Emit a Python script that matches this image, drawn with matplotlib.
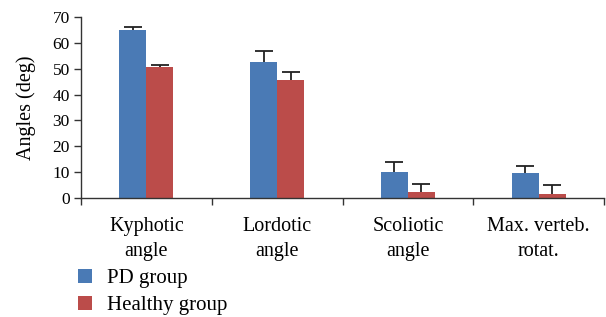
import matplotlib
matplotlib.use("Agg")
import matplotlib.pyplot as plt
import numpy as np

categories = ["Kyphotic\nangle", "Lordotic\nangle", "Scoliotic\nangle", "Max. verteb.\nrotat."]
pd_values = [65.0, 52.6, 10.1, 9.7]
pd_err = [1.3, 4.2, 3.7, 2.8]
healthy_values = [50.7, 45.6, 2.3, 1.5]
healthy_err = [0.8, 3.2, 3.0, 3.6]
series_names = ["PD group", "Healthy group"]
yticks = [0, 10, 20, 30, 40, 50, 60, 70]

plt.rcParams['font.family'] = ['Liberation Serif', 'DejaVu Serif']

fig = plt.figure(figsize=(6.06, 3.17), dpi=100)
ax = fig.add_axes([0.1337, 0.3754, 0.8630, 0.5710])

x = np.arange(len(categories))
w = 0.207
blue = "#4a7ab5"
red = "#bb4c4a"
ek = dict(ecolor="#222222", elinewidth=1.3, capsize=6.5, capthick=1.3)
b1 = ax.bar(x - w/2, pd_values, w, color=blue, label=series_names[0],
            yerr=[np.zeros(len(pd_err)), pd_err], error_kw=ek)
b2 = ax.bar(x + w/2, healthy_values, w, color=red, label=series_names[1],
            yerr=[np.zeros(len(healthy_err)), healthy_err], error_kw=ek)
for b in (b1, b2):
    caps = b.errorbar.lines[1]
    if caps:
        caps[0].set_visible(False)

ax.set_xlim(-0.5, len(categories) - 0.5)
ax.set_ylim(0, 70)
ax.set_yticks(yticks)
ax.tick_params(axis='y', labelsize=12.5, length=5, width=1, color="#333333", pad=3)
ax.set_xticks(np.arange(len(categories) + 1) - 0.5, minor=False)
ax.set_xticklabels([])
ax.tick_params(axis='x', which='major', length=5, width=1, color="#333333")
ax.set_xticks(x, minor=True)
ax.set_xticklabels(categories, minor=True, fontsize=14.5, linespacing=1.4)
ax.tick_params(axis='x', which='minor', length=0, pad=14)

for s in ["top", "right"]:
    ax.spines[s].set_visible(False)
for s in ["left", "bottom"]:
    ax.spines[s].set_color("#333333")
    ax.spines[s].set_linewidth(1)

ax.set_ylabel("Angles (deg)", fontsize=14.5, labelpad=12)

leg = fig.legend(handles=[b1, b2], labels=series_names, loc="upper left",
                 bbox_to_anchor=(0.115, 0.178), frameon=False, fontsize=15,
                 handlelength=0.65, handleheight=0.65, handletextpad=0.75,
                 labelspacing=0.38, borderaxespad=0)

fig.savefig("out.png", dpi=100)
